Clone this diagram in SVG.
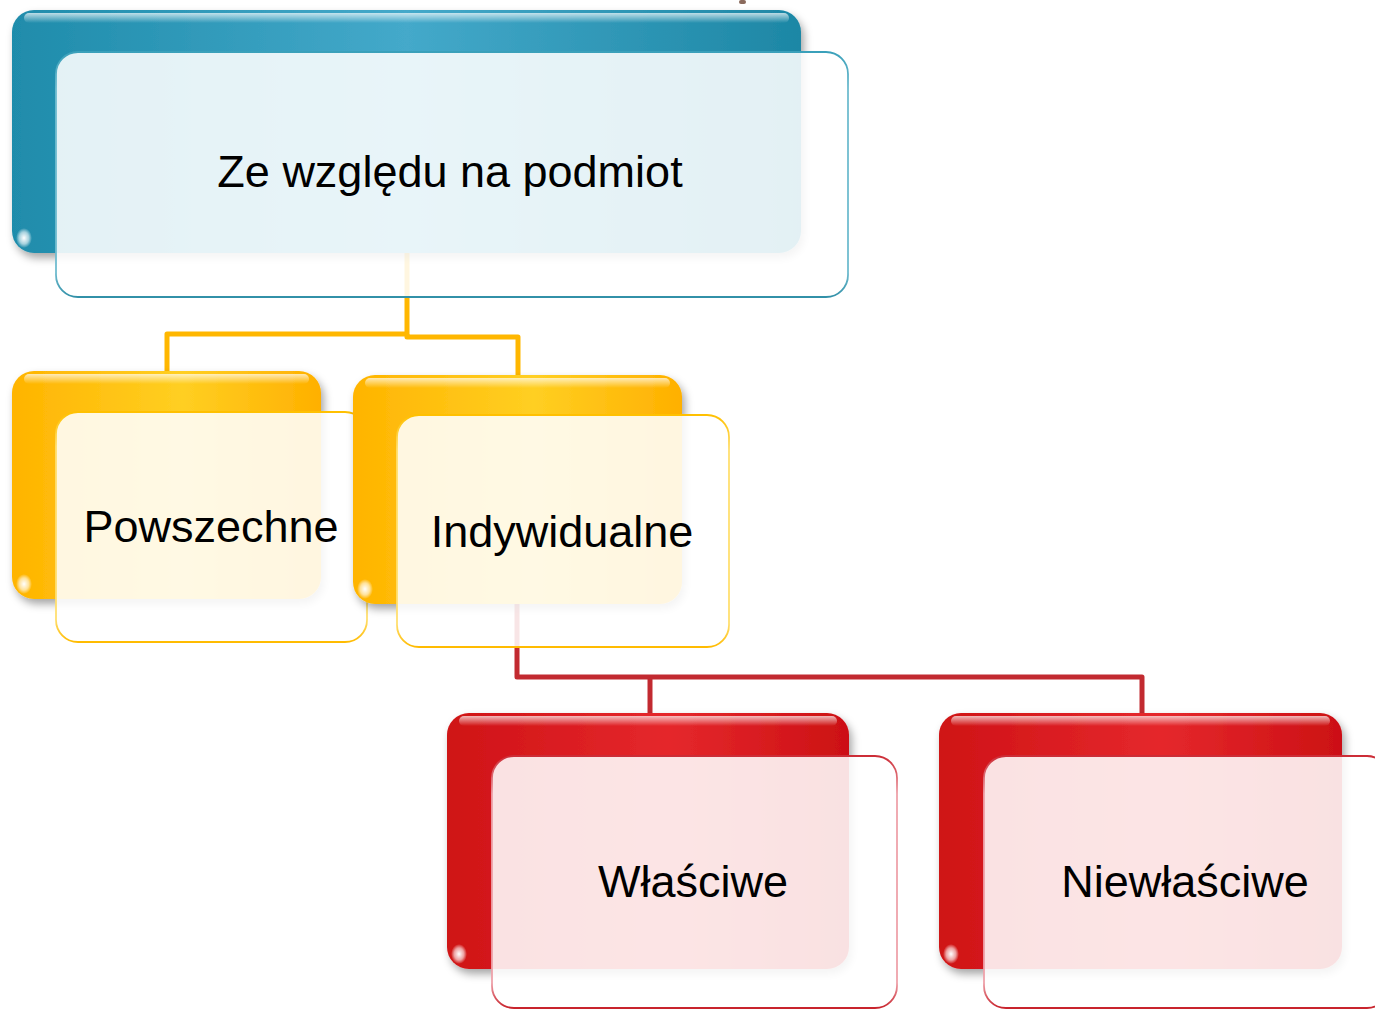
<svg xmlns="http://www.w3.org/2000/svg" width="1375" height="1010" viewBox="0 0 1375 1010">
<defs>
  <filter id="shadow" x="-10%" y="-10%" width="120%" height="125%">
    <feDropShadow dx="3" dy="5" stdDeviation="4" flood-color="#000" flood-opacity="0.35"/>
  </filter>
  <filter id="blur2"><feGaussianBlur stdDeviation="1.5"/></filter>
  <linearGradient id="gTeal" x1="0" y1="0" x2="1" y2="0">
    <stop offset="0" stop-color="#1f8cab"/>
    <stop offset="0.5" stop-color="#44a9ca"/>
    <stop offset="1" stop-color="#1d87a5"/>
  </linearGradient>
  <linearGradient id="gGold" x1="0" y1="0" x2="1" y2="0">
    <stop offset="0" stop-color="#ffb400"/>
    <stop offset="0.55" stop-color="#ffcf22"/>
    <stop offset="1" stop-color="#ffb000"/>
  </linearGradient>
  <linearGradient id="gRed" x1="0" y1="0" x2="1" y2="0">
    <stop offset="0" stop-color="#cf1216"/>
    <stop offset="0.55" stop-color="#e5282c"/>
    <stop offset="1" stop-color="#cc1014"/>
  </linearGradient>
  <linearGradient id="gHi" x1="0" y1="0" x2="0" y2="1">
    <stop offset="0" stop-color="#fff" stop-opacity="0.7"/>
    <stop offset="1" stop-color="#fff" stop-opacity="0"/>
  </linearGradient>
  <radialGradient id="gSpot" cx="0.5" cy="0.5" r="0.5">
    <stop offset="0" stop-color="#fff" stop-opacity="1"/>
    <stop offset="0.6" stop-color="#fff" stop-opacity="0.6"/>
    <stop offset="1" stop-color="#fff" stop-opacity="0"/>
  </radialGradient>
  <linearGradient id="sRed" x1="0" y1="0" x2="0" y2="1">
    <stop offset="0" stop-color="#cc2c36"/>
    <stop offset="0.15" stop-color="#eea2aa"/>
    <stop offset="0.9" stop-color="#eea2aa"/>
    <stop offset="1" stop-color="#c8232c"/>
  </linearGradient>
  <linearGradient id="sGold" x1="0" y1="0" x2="0" y2="1">
    <stop offset="0" stop-color="#ffc000"/>
    <stop offset="0.15" stop-color="#ffdf70"/>
    <stop offset="0.9" stop-color="#ffdf70"/>
    <stop offset="1" stop-color="#ffbb00"/>
  </linearGradient>
  <linearGradient id="sTeal" x1="0" y1="0" x2="0" y2="1">
    <stop offset="0" stop-color="#3aa0ba"/>
    <stop offset="0.15" stop-color="#70bccf"/>
    <stop offset="0.9" stop-color="#70bccf"/>
    <stop offset="1" stop-color="#3190a8"/>
  </linearGradient>
</defs>
<style>
  .front { fill: #ffffff; fill-opacity: 0.88; stroke-width: 1.8; }
  .hi { fill: url(#gHi); }
  .spot { fill: url(#gSpot); }
  .lbl { font-family: "Liberation Sans", Arial, sans-serif; font-size: 45px; fill: #000; text-anchor: middle; }
  .cy { fill: none; stroke: #ffb700; stroke-width: 5; stroke-linejoin: round; }
  .cr { fill: none; stroke: #c22a30; stroke-width: 5; stroke-linejoin: round; }
</style>

<rect x="739" y="0" width="7" height="4" rx="2" fill="#8a6a5c"/>

<g id="connectors">
  <path class="cy" d="M407,250 V334 H167 V374"/>
  <path class="cy" d="M407,334 V337 H518 V377"/>
  <path class="cr" d="M517,600 V677 H1142 V715"/>
  <path class="cr" d="M650,677 V715"/>
</g>

<g id="node-top">
  <rect x="12" y="10" width="789" height="243" rx="22" fill="url(#gTeal)" filter="url(#shadow)"/>
  <rect x="24" y="13" width="765" height="10" rx="5" class="hi"/>
  <ellipse cx="24" cy="238" rx="8" ry="10" class="spot"/>
  <rect class="front" x="56" y="52" width="792" height="245" rx="22" stroke="url(#sTeal)"/>
  <text class="lbl" x="450" y="187">Ze względu na podmiot</text>
</g>

<g id="node-powszechne">
  <rect x="12" y="371" width="309" height="228" rx="22" fill="url(#gGold)" filter="url(#shadow)"/>
  <rect x="24" y="374" width="285" height="10" rx="5" class="hi"/>
  <ellipse cx="24" cy="584" rx="8" ry="10" class="spot"/>
  <rect class="front" x="56" y="412" width="311" height="230" rx="22" stroke="url(#sGold)"/>
  <text class="lbl" x="211" y="542">Powszechne</text>
</g>

<g id="node-indywidualne">
  <rect x="353" y="375" width="329" height="229" rx="22" fill="url(#gGold)" filter="url(#shadow)"/>
  <rect x="365" y="378" width="305" height="10" rx="5" class="hi"/>
  <ellipse cx="365" cy="589" rx="8" ry="10" class="spot"/>
  <rect class="front" x="397" y="415" width="332" height="232" rx="22" stroke="url(#sGold)"/>
  <text class="lbl" x="562" y="547">Indywidualne</text>
</g>

<g id="node-wlasciwe">
  <rect x="447" y="713" width="402" height="256" rx="22" fill="url(#gRed)" filter="url(#shadow)"/>
  <rect x="459" y="716" width="378" height="10" rx="5" class="hi"/>
  <ellipse cx="459" cy="954" rx="8" ry="10" class="spot"/>
  <rect class="front" x="492" y="756" width="405" height="252" rx="22" stroke="url(#sRed)"/>
  <text class="lbl" x="693" y="897">Właściwe</text>
</g>

<g id="node-niewlasciwe">
  <rect x="939" y="713" width="403" height="256" rx="22" fill="url(#gRed)" filter="url(#shadow)"/>
  <rect x="951" y="716" width="379" height="10" rx="5" class="hi"/>
  <ellipse cx="951" cy="954" rx="8" ry="10" class="spot"/>
  <rect class="front" x="984" y="756" width="405" height="252" rx="22" stroke="url(#sRed)"/>
  <text class="lbl" x="1185" y="897">Niewłaściwe</text>
</g>
</svg>
